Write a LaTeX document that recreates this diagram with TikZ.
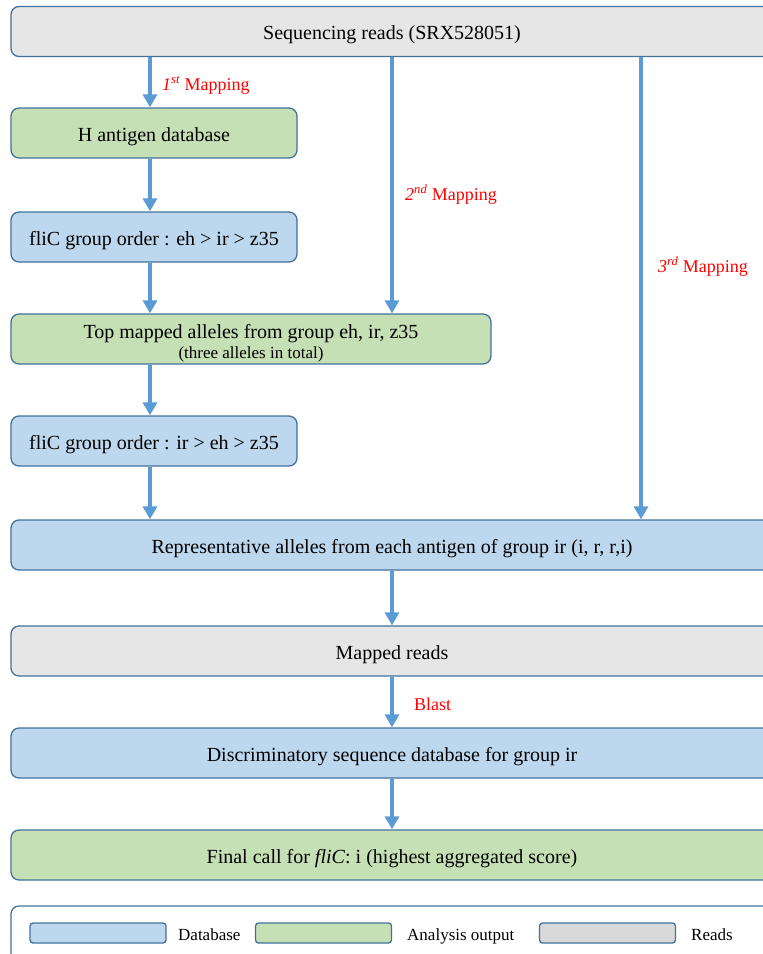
\documentclass[tikz,border=0pt]{standalone}
\usepackage{fontspec}
\setmainfont{Liberation Serif}
\usetikzlibrary{arrows.meta}
\definecolor{dbblue}{HTML}{BDD7EE}
\definecolor{outgreen}{HTML}{C5E0B4}
\definecolor{readgray}{HTML}{E7E6E6}
\definecolor{swgray}{HTML}{D9D9D9}
\definecolor{edge}{HTML}{41719C}
\definecolor{arrblue}{HTML}{5B9BD5}
\definecolor{lblred}{HTML}{FF0000}
\tikzset{
  boxbase/.style={draw=edge, line width=1.3pt, rounded corners=8pt, minimum height=50pt, inner sep=0pt, align=center, font=\fontsize{20}{23}\selectfont},
  box/.style={boxbase, text height=20pt, text depth=4pt},
  dbbox/.style={box, fill=dbblue},
  outbox/.style={box, fill=outgreen},
  readbox/.style={box, fill=readgray},
  arr/.style={draw=arrblue, line width=3.5pt, -{Triangle[length=13pt,width=14pt]}, shorten >=0pt},
  maplbl/.style={anchor=base west, text=lblred, font=\fontsize{18}{20}\selectfont, inner sep=0pt},
  swatch/.style={draw=edge, line width=1.3pt, rounded corners=3pt, minimum width=136pt, minimum height=20pt, inner sep=0pt},
  leglbl/.style={anchor=base west, font=\fontsize{17}{19}\selectfont, inner sep=0pt},
}
\begin{document}
\begin{tikzpicture}[x=1pt,y=-1pt]
\useasboundingbox (0,0) rectangle (763,954);
\begin{scope}
\clip (0,0) rectangle (763,954);
% boxes
\node[readbox, minimum width=762pt] (top) at (392,31.5) {Sequencing reads (SRX528051)};
\node[outbox, minimum width=286pt] (hdb) at (154,133) {H antigen database};
\node[dbbox, minimum width=286pt] (ord1) at (154,237) {fliC group order : eh {\textgreater} ir {\textgreater} z35};
\node[boxbase, fill=outgreen, minimum width=480pt] (tm) at (251,339) {};
\node[align=center, inner sep=0pt, font=\fontsize{20}{23}\selectfont] (tmtext) at (251,343) {Top mapped alleles from group eh, ir, z35\\[-3pt]{\fontsize{17}{19}\selectfont (three alleles in total)}};
\node[dbbox, minimum width=286pt] (ord2) at (154,441) {fliC group order : ir {\textgreater} eh {\textgreater} z35};
\node[dbbox, minimum width=762pt] (rep) at (392,545) {Representative alleles from each antigen of group ir (i, r, r,i)};
\node[readbox, minimum width=762pt] (mr) at (392,651) {Mapped reads};
\node[dbbox, minimum width=762pt] (disc) at (392,753) {Discriminatory sequence database for group ir};
\node[outbox, minimum width=762pt] (fin) at (392,855) {Final call for \textit{fliC}: i (highest aggregated score)};
% legend frame
\node[draw=edge, line width=1.3pt, rounded corners=8pt, minimum width=762pt, minimum height=70pt, inner sep=0pt] (leg) at (392,941) {};
\end{scope}
% column coordinates
\coordinate (c1) at (150,0);
\coordinate (c2) at (392,0);
\coordinate (c3) at (641,0);
% arrows
\draw[arr] (top.south -| c1) -- (hdb.north -| c1);
\draw[arr] (top.south -| c2) -- (tm.north -| c2);
\draw[arr] (top.south -| c3) -- (rep.north -| c3);
\draw[arr] (hdb.south -| c1) -- (ord1.north -| c1);
\draw[arr] (ord1.south -| c1) -- (tm.north -| c1);
\draw[arr] (tm.south -| c1) -- (ord2.north -| c1);
\draw[arr] (ord2.south -| c1) -- (rep.north -| c1);
\draw[arr] (rep.south -| c2) -- (mr.north -| c2);
\draw[arr] (mr.south -| c2) -- (disc.north -| c2);
\draw[arr] (disc.south -| c2) -- (fin.north -| c2);
% labels
\node[maplbl] (l1) at (162,90) {\textit{1\textsuperscript{st}} Mapping};
\node[maplbl] (l2) at (405,200) {\textit{2\textsuperscript{nd}} Mapping};
\node[maplbl] (l3) at (658,272) {\textit{3\textsuperscript{rd}} Mapping};
\node[maplbl] (l4) at (414,710) {Blast};
% legend
\node[swatch, fill=dbblue] (s1) at (98,933) {};
\node[leglbl] (t1) at (178,940) {Database};
\node[swatch, fill=outgreen] (s2) at (323.5,933) {};
\node[leglbl] (t2) at (407,940) {Analysis output};
\node[swatch, fill=swgray] (s3) at (607.5,933) {};
\node[leglbl] (t3) at (691,940) {Reads};
\end{tikzpicture}
\end{document}
